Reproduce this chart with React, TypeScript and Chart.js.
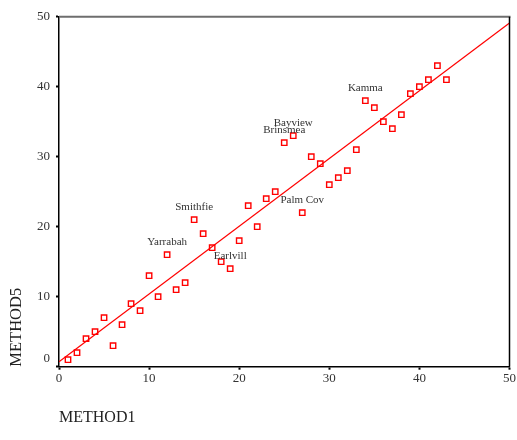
import React, { useEffect, useRef } from "react";
import { Chart, registerables } from "chart.js";

Chart.register(...registerables);

const method1 = [1, 2, 3, 4, 5, 6, 7, 8, 9, 10, 11, 12, 13, 14, 15, 16, 17, 18, 19, 20, 21, 22, 23, 24, 25, 26, 27, 28, 29, 30, 31, 32, 33, 34, 35, 36, 37, 38, 39, 40, 41, 42, 43];
const method5 = [1, 2, 4, 5, 7, 3, 6, 9, 8, 13, 10, 16, 11, 12, 21, 19, 17, 15, 14, 18, 23, 20, 24, 25, 32, 33, 22, 30, 29, 26, 27, 28, 31, 38, 37, 35, 34, 36, 39, 40, 41, 43, 41];
const pointLabels = ["", "", "", "", "", "", "", "", "", "", "", "Yarrabah", "", "", "Smithfie", "", "", "", "Earlvill", "", "", "", "", "", "Brinsmea", "Bayview", "Palm Cov", "", "", "", "", "", "", "Kamma", "", "", "", "", "", "", "", "", ""];
const fitX = [0, 50];
const fitY = [0.7, 49.1];
const tickValues = [0, 10, 20, 30, 40, 50];

const SERIF = "'Liberation Serif', 'Times New Roman', serif";

export default function App() {
  const ref = useRef<HTMLCanvasElement | null>(null);

  useEffect(() => {
    if (!ref.current) return;

    const framePlugin = {
      id: "frame",
      afterDatasetsDraw(chart: any) {
        const { ctx, chartArea } = chart;
        ctx.save();
        ctx.strokeStyle = "#6e6e6e";
        ctx.lineWidth = 2;
        ctx.beginPath();
        ctx.moveTo(chartArea.left, chartArea.top);
        ctx.lineTo(chartArea.right + 1, chartArea.top);
        ctx.stroke();
        ctx.strokeStyle = "#000";
        ctx.lineWidth = 1.5;
        ctx.beginPath();
        ctx.moveTo(chartArea.right, chartArea.top);
        ctx.lineTo(chartArea.right, chartArea.bottom);
        ctx.stroke();
        // point labels
        const meta = chart.getDatasetMeta(1);
        ctx.font = "11px " + SERIF;
        ctx.fillStyle = "#333";
        ctx.textAlign = "center";
        ctx.textBaseline = "middle";
        meta.data.forEach((el: any, i: number) => {
          const t = pointLabels[i];
          if (t) ctx.fillText(t, el.x, el.y - 13);
        });
        ctx.restore();
      },
    };

    const chart = new Chart(ref.current, {
      type: "scatter",
      data: {
        datasets: [
          {
            type: "line",
            data: fitX.map((x, i) => ({ x, y: fitY[i] })),
            borderColor: "#ff0000",
            borderWidth: 1.2,
            pointRadius: 0,
            fill: false,
          } as any,
          {
            data: method1.map((x, i) => ({ x, y: method5[i] })),
            pointStyle: "rect",
            pointRadius: 3.8,
            pointBorderWidth: 1.4,
            borderColor: "#ff0000",
            backgroundColor: "#ffffff",
          },
        ],
      },
      options: {
        animation: false,
        responsive: false,
        devicePixelRatio: 1,
        layout: { padding: { top: 16.7, right: 7, left: 0, bottom: 0 } },
        plugins: { legend: { display: false }, tooltip: { enabled: false } },
        scales: {
          x: {
            type: "linear",
            min: 0,
            max: 50,
            afterBuildTicks: (s: any) => { s.ticks = tickValues.map((v) => ({ value: v })); },
            afterFit: (s: any) => { s.height = 73.3; },
            grid: { drawOnChartArea: false, drawTicks: true, tickLength: 3, tickColor: "#000", tickWidth: 2 },
            border: { color: "#000", width: 1.5 },
            ticks: { padding: 1, color: "#333", font: { family: SERIF, size: 13 }, maxRotation: 0 },
            title: { display: true, text: "METHOD1", align: "start", color: "#222", font: { family: SERIF, size: 16 }, padding: { top: 0, bottom: 12.4 } },
          },
          y: {
            type: "linear",
            min: 0,
            max: 50,
            afterBuildTicks: (s: any) => { s.ticks = tickValues.map((v) => ({ value: v })); },
            afterFit: (s: any) => { s.width = 59; },
            grid: { drawOnChartArea: false, drawTicks: true, tickLength: 3, tickColor: "#000", tickWidth: 2 },
            border: { color: "#000", width: 1.5 },
            ticks: {
              padding: 6,
              color: "#333",
              font: { family: SERIF, size: 13 },
              callback: (v: any) => (v === 0 ? ["0", ""] : String(v)),
            },
            title: { display: true, text: "METHOD5", align: "start", color: "#222", font: { family: SERIF, size: 16.5 }, padding: { top: 7, bottom: 0 } },
          },
        },
      },
      plugins: [framePlugin],
    });
    return () => chart.destroy();
  }, []);

  return (
    <div style={{ position: "fixed", left: 0, top: 0, width: 517, height: 440, background: "#fff" }}>
      <canvas ref={ref} width={517} height={440} style={{ width: 517, height: 440 }} />
    </div>
  );
}
